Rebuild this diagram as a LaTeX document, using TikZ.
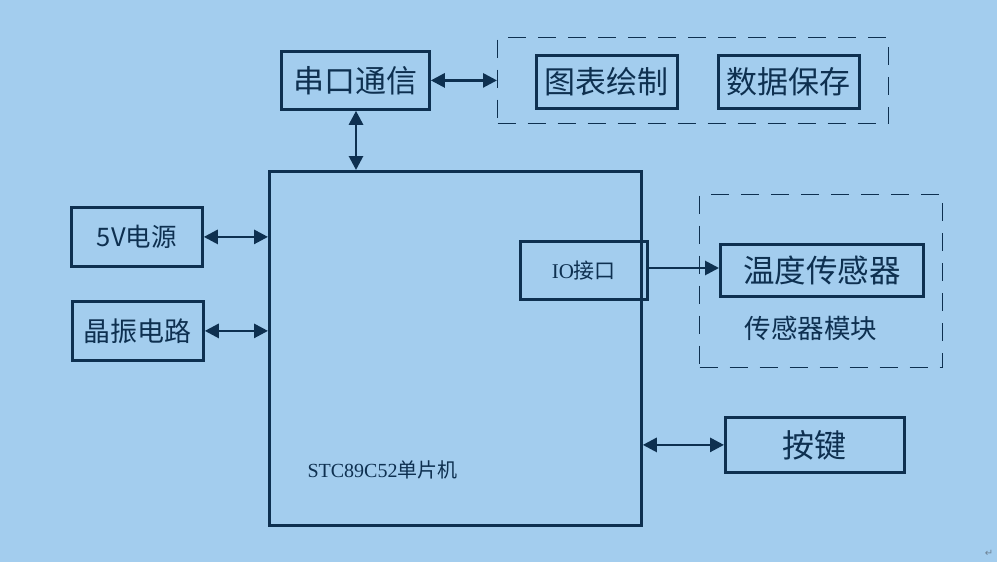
\documentclass[tikz,border=0pt]{standalone}
\usepackage{fontspec}
\setmainfont{Liberation Serif}
\newfontfamily\cjk{Noto Sans CJK SC}
\newfontfamily\dv{DejaVu Sans}
\usetikzlibrary{arrows.meta}
\definecolor{bg}{RGB}{163,205,238}
\definecolor{ink}{RGB}{14,48,80}
\tikzset{
  blk/.style={draw=ink, line width=2.8pt, text=ink, inner sep=0pt, anchor=north west},
  grp/.style={draw=ink, line width=1.2pt, dash pattern=on 18pt off 12pt, anchor=north west, inner sep=0pt},
  conn/.style={draw=ink, line width=2.8pt, -{Triangle[length=14pt,width=14pt]}},
  bconn/.style={draw=ink, line width=2.8pt, {Triangle[length=14pt,width=14pt]}-{Triangle[length=14pt,width=14pt]}},
}
\begin{document}
\begin{tikzpicture}[x=1pt,y=-1pt]
\fill[bg] (0,0) rectangle (997,562);
\useasboundingbox (0,0) rectangle (997,562);
% groups
\node[grp, minimum width=391pt, minimum height=86pt] (g1) at (497,37) {};
\node[grp, minimum width=243pt, minimum height=173pt] (g2) at (699,194) {};
% blocks
\node[blk, minimum width=148pt, minimum height=58pt, font=\cjk\fontsize{31}{31}\selectfont] (uart) at (280,50) {串口通信};
\node[blk, minimum width=141pt, minimum height=53pt, font=\cjk\fontsize{31}{31}\selectfont] (chart) at (535,54) {图表绘制};
\node[blk, minimum width=141pt, minimum height=53pt, font=\cjk\fontsize{31}{31}\selectfont] (save) at (717,54) {数据保存};
\node[blk, minimum width=372pt, minimum height=354pt] (mcu) at (268,170) {};
\node[blk, minimum width=131pt, minimum height=59pt, font=\cjk\fontsize{25.5}{25.5}\selectfont] (pwr) at (70,206) {5V电源};
\node[blk, minimum width=131pt, minimum height=59pt, font=\cjk\fontsize{27}{27}\selectfont] (osc) at (71,300) {晶振电路};
\node[blk, minimum width=127pt, minimum height=58pt, font=\fontsize{21}{21}\selectfont] (io) at (519,240) {IO{\cjk 接口}};
\node[blk, minimum width=203pt, minimum height=52pt, font=\cjk\fontsize{31.5}{31.5}\selectfont] (temp) at (719,243) {温度传感器};
\node[blk, minimum width=179pt, minimum height=55pt, font=\cjk\fontsize{32}{32}\selectfont] (key) at (724,416) {按键};
% labels
\node[text=ink, font=\cjk\fontsize{26.5}{26.5}\selectfont] (smod) at (811,328) {传感器模块};
\node[text=ink, font=\fontsize{20}{20}\selectfont, anchor=west] (mcul) at (304,470) {STC89C52{\cjk 单片机}};
\node[text=ink!60, font=\dv\fontsize{10}{10}\selectfont] (mark) at (989,553) {↵};
% connectors
\draw[bconn] (uart.east) -- (uart.east -| g1.west);
\draw[bconn] (uart.south -| 356,0) -- (356,0 |- mcu.north);
\draw[bconn] (pwr.east) -- (pwr.east -| mcu.west);
\draw[bconn] (osc.east) -- (osc.east -| mcu.west);
\draw[conn] (io.east |- 0,268) -- (temp.west |- 0,268);
\draw[bconn] (mcu.east |- key.west) -- (key.west);
\end{tikzpicture}
\end{document}
